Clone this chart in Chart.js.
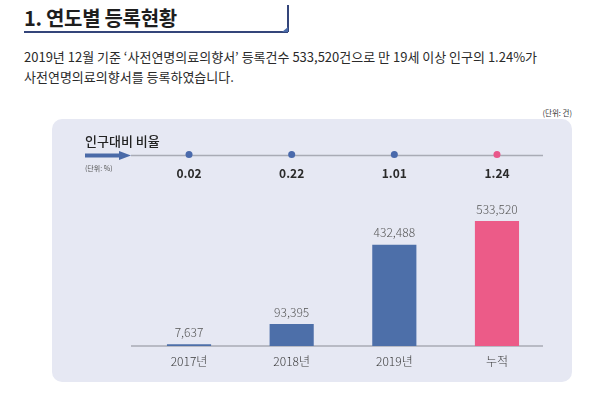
<!DOCTYPE html>
<html>
<head>
<meta charset="utf-8">
<script src="https://cdn.jsdelivr.net/npm/chart.js@4/dist/chart.umd.min.js"></script>
<style>
  body { margin: 0; width: 600px; height: 394px; background: #fff; position: relative; overflow: hidden;
         font-family: "Noto Sans CJK KR", "Noto Sans", sans-serif; color: #222; }
  .title { position: absolute; left: 24px; top: 3px; font-size: 20px; font-weight: 700; color: #1e1e1e; letter-spacing: -0.3px; }
  .title-line { position: absolute; left: 24px; top: 31px; width: 264px; height: 1.5px; background: #34457a; }
  .title-bar { position: absolute; left: 287px; top: 5px; width: 1.5px; height: 27px; background: #34457a; }
  .title-tri { position: absolute; left: 282px; top: 27px; width: 0; height: 0;
               border-left: 6px solid transparent; border-bottom: 5px solid #4a6aa8; }
  .desc { position: absolute; left: 24px; top: 47px; font-size: 13px; line-height: 20px; color: #2a2a2a; letter-spacing: 0; }
  .unit { position: absolute; right: 28px; top: 107px; font-size: 7.5px; color: #333; }
  .panel { position: absolute; left: 52px; top: 119px; width: 520px; height: 263px; border-radius: 10px; background: #e6e8f3; }
  .ratio-title { position: absolute; left: 33px; top: 12px; font-size: 13px; font-weight: 500; color: #222; }
  .ratio-unit { position: absolute; left: 33px; top: 44px; font-size: 7px; color: #555; }
  canvas { position: absolute; left: 0; top: 0; }
</style>
</head>
<body>
<div class="title">1. 연도별 등록현황</div>
<div class="title-line"></div>
<div class="title-bar"></div>
<div class="title-tri"></div>
<div class="desc">2019년 12월 기준 ‘사전연명의료의향서’ 등록건수 533,520건으로 만 19세 이상 인구의 1.24%가<br>사전연명의료의향서를 등록하였습니다.</div>
<div class="unit">(단위: 건)</div>
<div class="panel">
  <canvas id="chart" width="520" height="263"></canvas>
  <div class="ratio-title">인구대비 비율</div>
  <div class="ratio-unit">(단위: %)</div>
</div>
<script>
const categories = ['2017년', '2018년', '2019년', '누적'];
const counts = [7637, 93395, 432488, 533520];
const ratios = ['0.02', '0.22', '1.01', '1.24'];
const barColors = ['#4d6fa9', '#4d6fa9', '#4d6fa9', '#ec5b88'];
const dotColors = ['#4a6aac', '#4a6aac', '#4a6aac', '#e9578a'];

const fontFamily = '"Noto Sans CJK KR", "Noto Sans", sans-serif';
const lineY = 36.5;

const decorPlugin = {
  id: 'decor',
  beforeDatasetsDraw(chart) {
    const ctx = chart.ctx;
    const area = chart.chartArea;
    const x = chart.scales.x;
    ctx.save();
    // baseline
    ctx.strokeStyle = '#a9abb5';
    ctx.lineWidth = 1.5;
    ctx.beginPath();
    ctx.moveTo(79, area.bottom);
    ctx.lineTo(491, area.bottom);
    ctx.stroke();
    // ratio row line
    ctx.beginPath();
    ctx.moveTo(79, lineY);
    ctx.lineTo(491, lineY);
    ctx.stroke();
    // arrow
    ctx.fillStyle = '#4a6aa8';
    ctx.fillRect(33, lineY - 2, 36, 4);
    ctx.beginPath();
    ctx.moveTo(67, lineY - 4.5);
    ctx.lineTo(79, lineY);
    ctx.lineTo(67, lineY + 4.5);
    ctx.closePath();
    ctx.fill();
    // ratio dots + labels
    ratios.forEach((r, i) => {
      const px = x.getPixelForValue(i);
      ctx.fillStyle = dotColors[i];
      ctx.beginPath();
      ctx.arc(px, lineY - 1, 3.5, 0, Math.PI * 2);
      ctx.fill();
      ctx.fillStyle = '#2a2a2a';
      ctx.font = '700 12px ' + fontFamily;
      ctx.textAlign = 'center';
      ctx.textBaseline = 'middle';
      ctx.fillText(r, px, 54);
    });
    ctx.restore();
  },
  afterDatasetsDraw(chart) {
    const ctx = chart.ctx;
    const meta = chart.getDatasetMeta(0);
    ctx.save();
    ctx.fillStyle = '#555';
    ctx.font = '300 12px ' + fontFamily;
    ctx.textAlign = 'center';
    ctx.textBaseline = 'middle';
    meta.data.forEach((bar, i) => {
      ctx.fillText(counts[i].toLocaleString('en-US'), bar.x, bar.y - 12);
    });
    ctx.restore();
  }
};

new Chart(document.getElementById('chart'), {
  type: 'bar',
  data: {
    labels: categories,
    datasets: [{
      data: counts,
      backgroundColor: barColors,
      borderWidth: 0,
      categoryPercentage: 1,
      barPercentage: 0.43
    }]
  },
  options: {
    responsive: false,
    animation: false,
    events: [],
    layout: { padding: { left: 85.7, right: 23.7, top: 63, bottom: 0 } },
    plugins: { legend: { display: false }, tooltip: { enabled: false } },
    scales: {
      x: {
        grid: { display: false, drawTicks: false },
        border: { display: false },
        ticks: { color: '#3a3a3a', padding: 8, font: { family: fontFamily, size: 12, weight: '300' } },
        afterFit: s => { s.height = 36; }
      },
      y: {
        display: false,
        min: 0,
        max: 700000
      }
    }
  },
  plugins: [decorPlugin]
});
</script>
</body>
</html>
